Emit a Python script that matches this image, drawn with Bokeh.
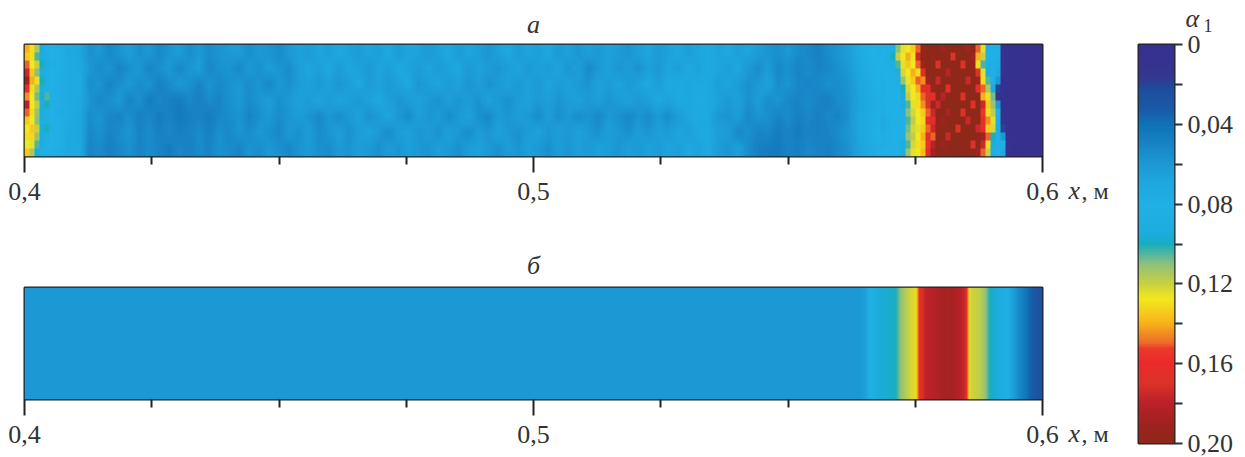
from bokeh.embed import file_html
from bokeh.resources import INLINE
from bokeh.plotting import figure
from bokeh.layouts import row, column
from bokeh.models import LinearColorMapper, Range1d, FixedTicker, Title, Label
import numpy as np

# Panel "a": alpha_1 in thousandths, rows from top to bottom, 102 columns from x=0.4 to x=0.6
ROW_1 = [135,100,78,74,72,70,56,60,52,58, 62,56,60,52,58,62,55,60,54,58, 60,62,55,60,58,54,60,66,62,68,
         64,70,66,62,68,64,70,62,68,66, 60,66,70,62,68,64,58,66,70,62, 68,64,70,60,66,58,64,60,66,62,
         58,64,68,60,66,70,64,68,72,66, 70,64,68,62,58,56,60,54,52,48, 54,58,62,72,78,82,90,120,130,160,
         190,200,200,200,190,130,90,80,10,0,0,0]
ROW_2 = [160,105,80,76,74,72,60,54,58,50, 56,60,50,56,60,52,58,62,52,56, 58,52,60,56,62,58,54,64,68,64,
         70,62,68,66,60,68,64,70,66,62, 68,62,66,70,60,66,62,58,64,68, 60,66,62,68,58,64,52,60,66,58,
         62,56,66,60,68,64,70,66,72,68, 64,70,60,54,62,52,56,50,54,50, 52,56,60,70,76,80,80,105,130,150,
         180,200,190,200,200,140,90,80,20,0,0,0]
ROW_3 = [180,110,82,78,72,74,54,58,50,56, 60,54,58,48,54,60,56,50,58,52, 56,60,54,58,52,60,56,62,66,60,
         66,58,64,70,62,66,60,66,70,58, 64,68,62,66,58,64,56,62,66,60, 66,60,68,62,66,60,58,66,62,68,
         60,66,70,64,70,72,68,72,70,64, 68,62,56,60,66,54,58,52,50,52, 56,54,58,68,74,80,80,90,125,140,
         170,190,200,200,200,170,105,90,15,0,0,0]
ROW_4 = [140,105,90,76,74,72,58,52,56,60, 50,56,46,52,48,46,52,48,54,50, 56,60,54,58,62,56,60,66,62,68,
         62,68,64,60,66,70,64,58,62,66, 60,56,64,58,62,56,66,60,56,62, 66,60,64,58,62,66,60,64,58,62,
         66,60,64,70,66,72,70,74,72,66, 60,66,56,62,54,58,52,50,54,50, 48,54,56,66,72,78,80,85,110,130,
         160,190,200,200,200,190,130,80,10,0,0,0]
ROW_5 = [130,100,84,78,74,70,54,58,52,50, 56,48,52,46,50,44,48,50,46,52, 54,58,50,56,60,54,58,62,58,52,
         60,54,60,66,56,62,68,60,54,64, 58,62,54,60,66,56,52,62,58,64, 60,54,62,56,60,54,58,52,60,56,
         52,58,54,60,54,62,68,72,70,60, 58,62,52,58,56,50,54,48,52,48, 52,50,56,68,74,78,80,80,110,125,
         140,170,200,200,200,190,140,80,15,0,0,0]
ROW_6 = [130,105,88,76,72,70,52,56,50,54, 58,50,54,48,52,48,50,54,48,56, 52,58,54,60,56,52,60,56,62,54,
         58,64,56,62,68,60,54,62,66,58, 62,56,64,60,54,62,58,66,60,56, 62,66,58,64,60,66,60,56,64,60,
         56,62,58,64,62,68,64,70,72,64, 62,52,56,50,52,46,50,46,50,48, 50,54,58,68,74,80,80,80,105,130,
         140,160,200,200,200,200,150,85,20,0,0,0]
ROW_7 = [125,95,78,74,72,72,50,54,48,52, 56,50,54,50,46,52,48,54,50,56, 54,50,58,54,60,56,52,58,60,56,
         54,60,58,64,60,56,62,58,64,60, 58,64,60,56,62,66,60,56,62,58, 64,60,56,62,58,64,60,66,62,58,
         64,60,66,62,68,64,70,66,72,62, 58,64,54,48,46,44,50,48,52,50, 48,52,56,66,72,78,80,80,110,125,
         140,170,200,200,200,190,160,85,70,0,0,0]

# Finer reading of the speckled band near x=0.575-0.595 (28 columns, 14 rows, top to bottom)
BAND = [
    [80,80,85,110,125,128,135,150,195,200,200,200,190,200,200,200,200,190,200,150,125,85,80,80,10,0,0,0],
    [80,88,100,120,128,140,130,175,200,200,195,200,200,200,170,200,200,200,190,140,120,82,80,78,8,0,0,0],
    [80,80,85,105,125,135,128,150,190,200,200,170,200,200,200,200,165,200,195,130,105,85,78,76,15,0,0,0],
    [78,80,82,90,122,128,140,130,170,200,200,200,200,180,200,200,200,200,200,170,125,90,80,72,5,0,0,0],
    [78,80,80,85,112,126,135,150,145,190,200,175,200,200,200,200,200,175,200,190,130,105,82,60,0,0,0,0],
    [76,80,80,82,100,122,128,140,165,160,195,200,200,165,200,200,200,200,200,165,150,115,95,20,0,0,0,0],
    [76,78,80,80,95,118,128,132,150,170,165,200,180,200,200,200,170,200,200,200,140,130,108,10,0,0,0,0],
    [76,80,80,80,90,105,125,130,145,170,190,175,200,200,200,200,200,200,165,200,175,135,112,60,0,0,0,0],
    [76,78,80,80,85,110,122,128,135,150,175,200,200,185,200,200,170,200,200,200,155,130,118,82,0,0,0,0],
    [74,76,80,80,82,105,118,128,132,165,160,200,190,200,200,200,200,175,200,200,170,145,125,85,5,0,0,0],
    [74,78,80,80,80,108,122,125,135,150,175,195,200,200,200,170,200,200,200,175,165,135,122,84,20,0,0,0],
    [76,78,80,80,85,112,118,128,140,170,150,200,200,175,200,200,200,200,200,200,190,150,100,85,60,0,0,0],
    [76,78,80,80,92,105,122,130,135,155,180,200,190,200,200,200,200,200,170,200,175,130,92,84,78,5,0,0],
    [78,80,80,82,90,112,125,128,138,165,190,200,200,200,200,200,200,200,200,190,150,120,88,82,72,5,0,0],
]
# Finer reading of the left edge (8 columns, 14 rows, top to bottom)
EDGE = [
    [140,130,115,95,85,82,78,76], [135,130,105,90,88,80,78,76], [150,128,120,100,90,84,78,76],
    [175,135,110,92,84,80,78,76], [190,140,125,100,88,80,78,75], [165,130,115,92,84,80,78,76],
    [145,128,108,96,105,80,78,75], [180,128,118,90,100,84,78,76], [150,130,112,92,84,80,76,75],
    [135,128,110,88,84,82,78,76], [128,135,120,92,100,84,78,76], [130,132,112,90,84,80,78,76],
    [128,125,105,90,82,80,78,76], [135,115,95,85,80,78,76,75],
]

# Panel "b": flat level, then the profile across the band (thousandths), 5 px steps
B_FLAT = 60
B_PROFILE = [65,80,92,96,97,98,100,110,116,122,124,165,178,180,182,185,188,188,185,180,175,
             122,120,118,112,100,96,92,85,70,60,50,45,35,30,25]
B_COLUMNS = 204

# Colour scale stops
STOP_VALUES = [0, .015, .022, .032, .04, .05, .06, .07, .08, .095, .1, .105, .11, .12, .128, .14, .15, .153, .16, .17, .18, .19, .2]
STOP_COLORS = ["#36308f", "#35358f", "#1d4e9c", "#1a5aa8", "#0f73b8", "#1884c6", "#1c9ad6", "#1ea8e0", "#20b0e6", "#1cacdc", "#17aec0",
               "#4db5a0", "#8cc07f", "#c8d040", "#f2e81e", "#f7b31a", "#ee6a2a", "#ea3a2a", "#ea2a2a", "#dc3328", "#bb2129", "#a0231f", "#8e2819"]

X_TICKS = [.4, .5, .6]
X_MINOR = [.425, .45, .475, .525, .55, .575]
X_LABELS = {.4: "0,4", .5: "0,5", .6: "0,6"}
CB_TICKS = [0, .02, .04, .06, .08, .1, .12, .14, .16, .18, .2]
CB_LABELS = {0: "0", .02: "", .04: "0,04", .06: "", .08: "0,08", .1: "", .12: "0,12", .14: "", .16: "0,16", .18: "", .2: "0,20"}

SERIF = "Liberation Serif"
INK = "#222222"
TXT = "#333333"
FS = "26px"

rgb = np.array([[int(c[i:i+2], 16) for i in (1, 3, 5)] for c in STOP_COLORS], float)
grid = np.linspace(0, .2, 256)
palette = ["#%02x%02x%02x" % tuple(int(round(np.interp(g, STOP_VALUES, rgb[:, k]))) for k in range(3)) for g in grid]
mapper = LinearColorMapper(palette=palette, low=0, high=.2)


def smooth_for_display(f, w, h):
    """Bilinear resampling of a read grid to the frame's pixels, as the soft reference image shows it."""
    xs = (np.arange(w) + .5) / w * f.shape[1] - .5
    out = np.array([np.interp(xs, np.arange(f.shape[1]), r) for r in f])
    ys = (np.arange(h) + .5) / h * f.shape[0] - .5
    return np.array([np.interp(ys, np.arange(f.shape[0]), c) for c in out.T]).T


def cells_for_display(f, w, h):
    """The read cells as they are, one block of pixels each."""
    return np.repeat(np.repeat(f, h // f.shape[0], axis=0), w // f.shape[1], axis=1)


shown_a = smooth_for_display(np.array([ROW_7, ROW_6, ROW_5, ROW_4, ROW_3, ROW_2, ROW_1], float) / 1000, 1018, 112)
shown_a[:, 0:40] = cells_for_display(np.flipud(np.array(EDGE, float)) / 1000, 40, 112)
shown_a[:, 856:996] = cells_for_display(np.flipud(np.array(BAND, float)) / 1000, 140, 112)
shown_b = smooth_for_display(np.array([[B_FLAT] * (B_COLUMNS - len(B_PROFILE)) + B_PROFILE], float) / 1000, 1018, 2)


def side_label(x, y, text, style, size):
    """A label kept in a side panel of the figure: it may lie outside the frame."""
    return Label(x=x, y=y, x_units="screen", y_units="screen", text=text, text_font=SERIF, text_font_style=style,
                 text_font_size=size, text_color=TXT, text_align="left", text_baseline="middle")


def panel(field, height, top, bottom, letter, standoff):
    p = figure(frame_width=1018, frame_height=112, height=height, width=1125,
               min_border_left=24, min_border_right=83, min_border_top=top, min_border_bottom=bottom,
               x_range=Range1d(.4, .6), y_range=Range1d(0, 1), y_axis_location=None,
               toolbar_location=None, output_backend="svg", tools="")
    p.image(image=[field], x=.4, y=0, dw=.2, dh=1, color_mapper=mapper)
    p.grid.visible = False
    p.outline_line_color = INK
    p.outline_line_width = 2
    ax = p.xaxis[0]
    ax.ticker = FixedTicker(ticks=X_TICKS, minor_ticks=X_MINOR)
    ax.major_label_overrides = X_LABELS
    ax.major_tick_in = 0
    ax.major_tick_out = 16
    ax.minor_tick_in = 0
    ax.minor_tick_out = 8
    ax.major_tick_line_color = INK
    ax.minor_tick_line_color = INK
    ax.major_tick_line_width = 2
    ax.minor_tick_line_width = 2
    ax.axis_line_color = None
    ax.major_label_text_font = SERIF
    ax.major_label_text_font_size = FS
    ax.major_label_text_color = TXT
    ax.major_label_standoff = 10
    p.add_layout(Title(text=letter, align="center", text_font=SERIF, text_font_style="italic",
                       text_font_size=FS, text_color=TXT, standoff=standoff), "above")
    p.add_layout(side_label(26, -34, "x", "italic", "26px"), "right")
    p.add_layout(side_label(27, -34, ", м", "normal", "24px"), "right")
    return p


fa = panel(shown_a, 240, 44, 84, "а", 11)
fb = panel(shown_b, 217, 47, 58, "б", 16)

cb = figure(frame_width=36, frame_height=399, width=120, height=457,
            min_border_left=13, min_border_right=71, min_border_top=44, min_border_bottom=14,
            x_range=Range1d(0, 1), y_range=Range1d(.2, 0), x_axis_location=None, y_axis_location="right",
            toolbar_location=None, output_backend="svg", tools="")
ramp = np.linspace(0, .2, 400).reshape(-1, 1)
cb.image(image=[ramp], x=0, y=0, dw=1, dh=.2, color_mapper=mapper)
cb.grid.visible = False
cb.outline_line_color = INK
cb.outline_line_width = 2
ay = cb.yaxis[0]
ay.ticker = FixedTicker(ticks=CB_TICKS)
ay.major_label_overrides = CB_LABELS
ay.major_tick_in = 0
ay.major_tick_out = 8
ay.minor_tick_in = 0
ay.minor_tick_out = 0
ay.major_tick_line_color = "#1c3540"
ay.major_tick_line_width = 2
ay.axis_line_color = None
ay.major_label_text_font = SERIF
ay.major_label_text_font_size = FS
ay.major_label_text_color = TXT
ay.major_label_standoff = 5
cb.add_layout(side_label(47, 26, "α", "italic", "26px"), "above")
cb.add_layout(side_label(74, 418, "1", "normal", "18px"), "left")

page = row(column(fa, fb, spacing=0), cb, spacing=0)
open("out.html", "w").write(file_html(page, INLINE))
